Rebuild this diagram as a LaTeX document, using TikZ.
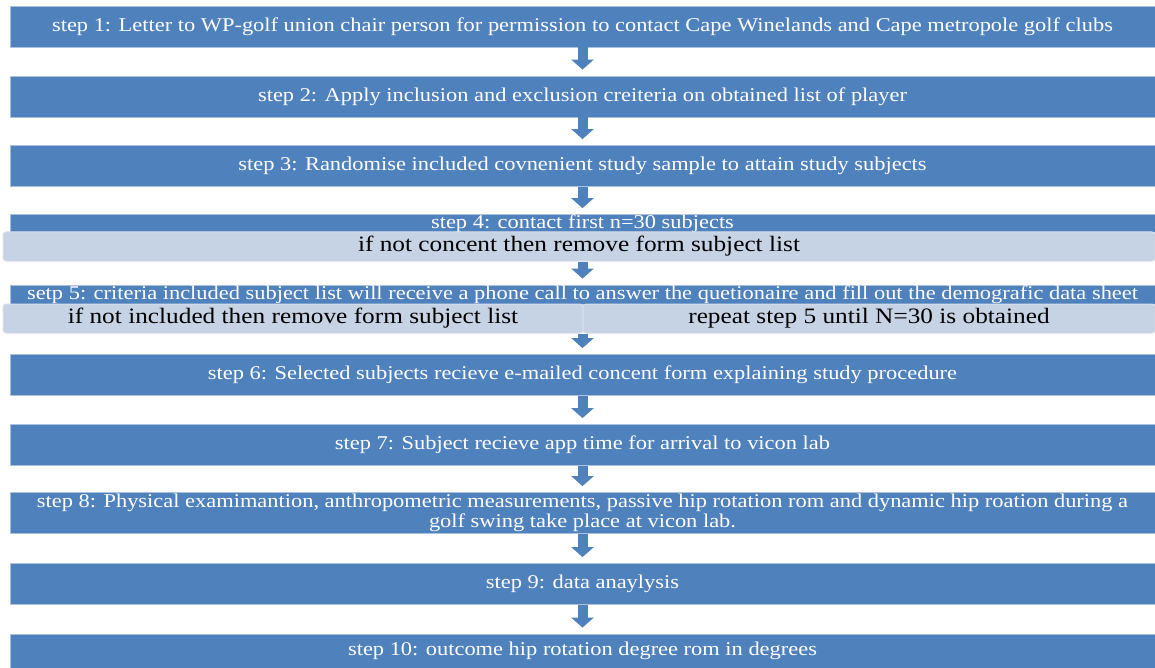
\documentclass[tikz,border=0pt]{standalone}
\usepackage{fontspec}
\setmainfont[FakeStretch=1.15]{Liberation Serif}
\usetikzlibrary{arrows.meta}
\definecolor{stepblue}{RGB}{79,129,189}
\definecolor{stepedge}{RGB}{170,193,222}
\definecolor{noteblue}{RGB}{198,211,229}
\definecolor{noteedge}{RGB}{214,223,236}
\tikzset{
  stepbox/.style={fill=stepblue, draw=stepedge, line width=0.8pt, text=white,
    minimum width=1145pt, minimum height=41pt, inner sep=0pt,
    font=\fontsize{19.5}{20}\selectfont},
  notebox/.style={fill=noteblue, draw=noteedge, line width=1pt, rounded corners=3pt,
    minimum height=29pt, inner sep=0pt, font=\fontsize{22}{24}\selectfont},
  stepto/.style={draw=stepblue, line width=10pt,
    -{Triangle[width=22pt,length=10pt]}, shorten >=6pt}
}
\begin{document}
\begin{tikzpicture}[x=1pt,y=-1pt]
\useasboundingbox (0,0) rectangle (1155,668);
% steps
\node[stepbox] (s1) at (582.5,26.5) {step 1: Letter to WP-golf union chair person for permission to contact Cape Winelands and Cape metropole golf clubs};
\node[stepbox] (s2) at (582.5,96.5) {step 2: Apply inclusion and exclusion creiteria on obtained list of player};
\node[stepbox] (s3) at (582.5,166) {step 3: Randomise included covnenient study sample to attain study subjects};
\node[stepbox, minimum height=17pt] (s4) at (582.5,223.5) {step 4: contact first n=30 subjects};
\node[notebox, minimum width=1152pt] (n4) at (579,246.5) {if not concent then remove form subject list};
\node[stepbox, minimum height=19pt] (s5) at (582.5,294.5) {setp 5: criteria included subject list will receive a phone call to answer the quetionaire and fill out the demografic data sheet};
\node[notebox, minimum width=580pt] (n5a) at (293,318.5) {if not included then remove form subject list};
\node[notebox, minimum width=572pt] (n5b) at (869,318.5) {repeat step 5 until N=30 is obtained};
\node[stepbox] (s6) at (582.5,375) {step 6: Selected subjects recieve e-mailed concent form explaining study procedure};
\node[stepbox] (s7) at (582.5,445) {step 7: Subject recieve app time for arrival to vicon lab};
\node[stepbox, align=center] (s8) at (582.5,513) {step 8: Physical examimantion, anthropometric measurements, passive hip rotation rom and dynamic hip roation during a\\golf swing take place at vicon lab.};
\node[stepbox] (s9) at (582.5,584) {step 9: data anaylysis};
\node[stepbox, minimum height=34pt] (s10) at (582.5,651) {step 10: outcome hip rotation degree rom in degrees};
% arrows
\draw[stepto] (s1.south) -- (s2.north);
\draw[stepto] (s2.south) -- (s3.north);
\draw[stepto] (s3.south) -- (s4.north);
\draw[stepto] (n4.south -| s5.north) -- (s5.north);
\draw[stepto] (n5a.south -| s6.north) -- (s6.north);
\draw[stepto] (s6.south) -- (s7.north);
\draw[stepto] (s7.south) -- (s8.north);
\draw[stepto] (s8.south) -- (s9.north);
\draw[stepto] (s9.south) -- (s10.north);
\end{tikzpicture}
\end{document}
